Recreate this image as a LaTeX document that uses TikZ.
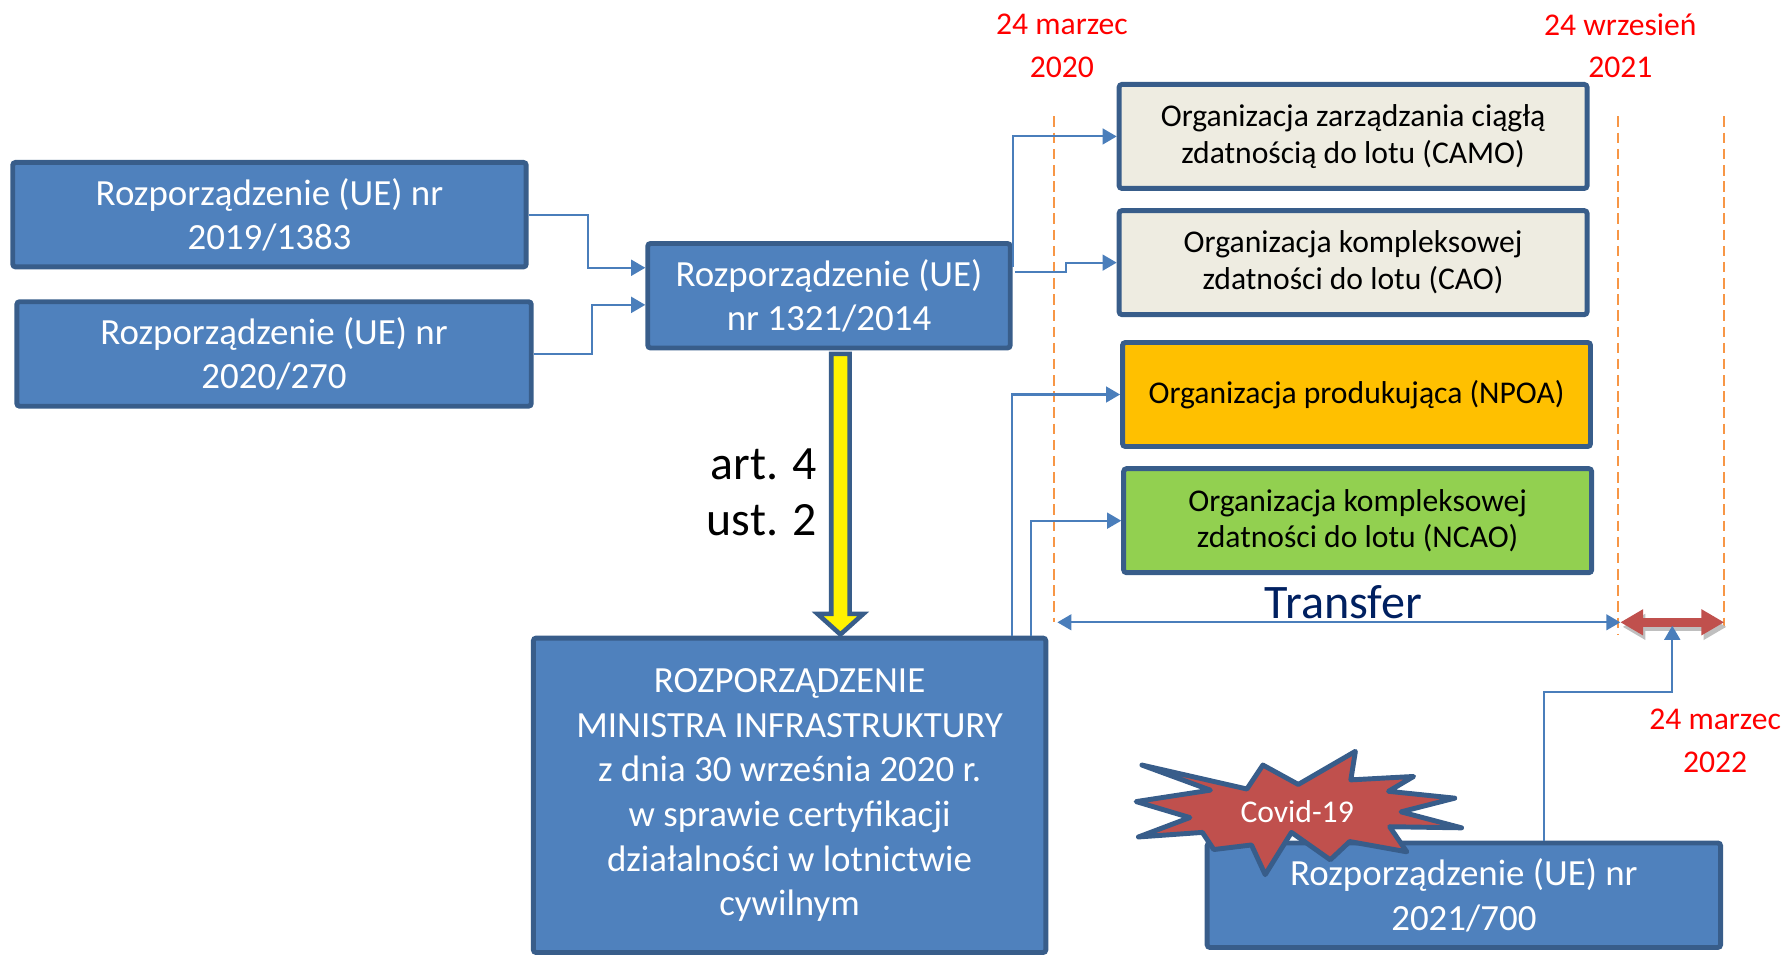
\documentclass[tikz,border=0pt]{standalone}
\usepackage{fontspec}
\setmainfont{Carlito}
\usetikzlibrary{arrows.meta,calc}
\definecolor{regblue}{HTML}{4F81BD}
\definecolor{regedge}{HTML}{385D8A}
\definecolor{connblue}{HTML}{4A7EBB}
\definecolor{orgbeige}{HTML}{EEECE1}
\definecolor{orggold}{HTML}{FFC000}
\definecolor{orggreen}{HTML}{92D050}
\definecolor{dashorange}{HTML}{F79646}
\definecolor{covidred}{HTML}{C0504D}
\definecolor{transfernavy}{HTML}{002060}
\begin{document}
\begin{tikzpicture}[x=0.1142mm, y=-0.1142mm,
    regbox/.style={draw=regedge, line width=1.4pt, rounded corners=0.8pt, fill=regblue, text=white, align=center, inner sep=0pt, font=\fontsize{10.5}{12.7}\selectfont},
    orgbox/.style={draw=regedge, line width=1.4pt, rounded corners=0.8pt, align=center, inner sep=0pt, minimum width=46.8mm, minimum height=10.4mm, font=\fontsize{9}{10.5}\selectfont},
    conn/.style={draw=connblue, line width=0.6pt, -{Triangle[length=4pt,width=4.5pt]}},
    datelabel/.style={text=red, align=center, inner sep=0pt, font=\fontsize{9}{12.1}\selectfont},
    dashline/.style={draw=dashorange, line width=0.5pt, dash pattern=on 3pt off 1.6pt}]
  \useasboundingbox (0,0) rectangle (1565,837);
  \node[regbox, minimum width=51.35mm, minimum height=10.45mm] (A) at (236,188) {Rozporządzenie (UE) nr\\2019/1383};
  \node[regbox, minimum width=51.45mm, minimum height=10.45mm] (B) at (240,310) {Rozporządzenie (UE) nr\\2020/270};
  \node[regbox, minimum width=36.25mm, minimum height=10.45mm] (C) at (726,259) {Rozporządzenie (UE)\\nr 1321/2014};
  \node[regbox, minimum width=51.25mm, minimum height=31.45mm] (D) at (691.5,696.5) {ROZPORZĄDZENIE\\MINISTRA INFRASTRUKTURY\\z dnia 30 września 2020 r.\\w sprawie certyfikacji\\działalności w lotnictwie\\cywilnym};
  \node[orgbox, fill=orgbeige] (E) at (1185,119.5) {Organizacja zarządzania ciągłą\\zdatnością do lotu (CAMO)};
  \node[orgbox, fill=orgbeige] (F) at (1185,230) {Organizacja kompleksowej\\zdatności do lotu (CAO)};
  \node[orgbox, fill=orggold] (G) at (1188,345.5) {Organizacja produkująca (NPOA)};
  \node[orgbox, fill=orggreen] (H) at (1189,456) {Organizacja kompleksowej\\zdatności do lotu (NCAO)};
  \node[regbox, minimum width=51.35mm, minimum height=10.45mm] (I) at (1282,784) {Rozporządzenie (UE) nr\\2021/700};

  \node[datelabel] (d20) at (930,40) {24 marzec\\2020};
  \node[datelabel] (d21) at (1419,40) {24 wrzesień\\2021};
  \node[datelabel] (d22) at (1502,649) {24 marzec\\2022};

  \coordinate (m20) at (923,102);
  \coordinate (m21) at (1417,102);
  \coordinate (m22) at (1510,102);
  \draw[dashline] (m20) -- ++(0,443);
  \draw[dashline] (m21) -- ++(0,454);
  \draw[dashline] (m22) -- ++(0,451);

  \draw[conn] (A.east) -- ++(52,0) |- ($(C.west)+(0,-24.5)$);
  \draw[conn] (B.east) -- ++(51,0) |- ($(C.west)+(0,8)$);
  \draw[conn] ($(C.east)+(0,-25)$) |- (E.west);
  \draw[conn] ($(C.east)+(2,-20.5)$) -- ++(44.5,0) |- (F.west);
  \draw[conn] ($(D.north east)+(-32,0)$) |- (G.west);
  \draw[conn] ($(D.north east)+(-15,0)$) |- (H.west);

  \coordinate (ytop) at ($(C.south)+(10,3)$);
  \draw[regedge, line width=1.3pt, fill=yellow] ($(ytop)+(-8,0)$) -- ($(ytop |- D.north)+(-8,-19)$) -- ++(-12,0)
    -- ($(ytop |- D.north)+(0,-1)$) -- ($(ytop |- D.north)+(20,-19)$) -- ++(-12,0) -- ($(ytop)+(8,0)$) -- cycle;
  \node[anchor=east, align=right, inner sep=0pt, font=\fontsize{13.6}{16.1}\selectfont] (art) at (716,431) {art. 4\\ust. 2};

  \coordinate (t20) at (926,545);
  \coordinate (t21) at (1419,545);
  \coordinate (t22) at (1510,545);
  \draw[conn, {Triangle[length=4pt,width=4.5pt]}-{Triangle[length=4pt,width=4.5pt]}] (t20) -- (t21);
  \node[anchor=base, inner sep=0pt, text=transfernavy, font=\fontsize{13.7}{16}\selectfont] (transfer) at (1176.5,542) {Transfer};
  \draw[black!25, line width=2.4pt, {Triangle[length=6.5pt,width=7pt]}-{Triangle[length=6.5pt,width=7pt]}] ($(t21)+(2,4)$) -- ($(t22)+(2,4)$);
  \draw[covidred, line width=2.4pt, {Triangle[length=6.5pt,width=7pt]}-{Triangle[length=6.5pt,width=7pt]}] (t21) -- (t22);
  \coordinate (up) at ($(t21)!0.5!(t22)+(0,3)$);
  \draw[conn] ($(I.north west)+(297,0)$) |- ($(up)+(0,58)$) -- (up);

  \draw[regedge, line width=1.4pt, fill=covidred, line join=round] (1000,670) -- (1092,691) -- (1106,670) -- (1137,687) -- (1187,658) -- (1183,683) -- (1238,680) -- (1216,693)
    -- (1274,699) -- (1227,711) -- (1280,725) -- (1217,724) -- (1232,746) -- (1182,737) -- (1165,753) -- (1131,729) -- (1108,766)
    -- (1096,740) -- (1063,744) -- (1053,729) -- (997,733) -- (1042,716) -- (995,702) -- (1060,692) -- cycle;
  \node[text=white, inner sep=0pt, font=\fontsize{9}{11}\selectfont] (covid) at (1136,711) {Covid-19};
\end{tikzpicture}
\end{document}
